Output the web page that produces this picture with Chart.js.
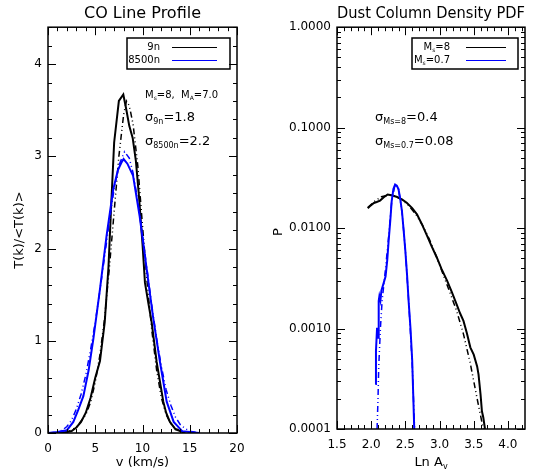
<!DOCTYPE html>
<html>
<head>
<meta charset="utf-8">
<script src="https://cdn.jsdelivr.net/npm/chart.js@4.4.0/dist/chart.umd.min.js"></script>
<style>
body { margin: 0; background: #fff; }
#wrap { position: relative; width: 536px; height: 474px; }
.pane { position: absolute; top: 0; width: 268px; height: 474px; }
</style>
</head>
<body>
<div id="wrap">
  <div class="pane" style="left:0"><canvas id="co" width="268" height="474"></canvas></div>
  <div class="pane" style="left:268px"><canvas id="pdf" width="268" height="474"></canvas></div>
</div>
<script>
// ** DATA: ** //

// CO line profile, 9n (black) and 8500n (blue), with their gaussian fits
var v9n = [0, 1, 2, 2.5, 3, 3.5, 4, 4.5, 5, 5.5, 6, 6.4, 6.7, 7.0, 7.5, 7.97, 8.3, 8.6, 8.96, 9.3, 9.6, 10.0, 10.26, 10.6, 10.97, 11.5, 12.2, 12.5, 12.9, 13.5, 14, 14.5];
var t9n = [0, 0, 0.01, 0.02, 0.06, 0.12, 0.22, 0.38, 0.6, 0.78, 1.2, 1.8, 2.5, 3.15, 3.6, 3.67, 3.5, 3.33, 3.2, 2.95, 2.6, 2.05, 1.63, 1.42, 1.2, 0.77, 0.34, 0.22, 0.12, 0.04, 0.02, 0];

var v9nFit = [0, 1, 2, 3, 4, 4.5, 5, 5.5, 6, 6.5, 7, 7.5, 8, 8.3, 8.6, 9, 9.5, 10, 10.5, 11, 11.5, 12, 12.5, 13, 13.5, 14, 15, 16];
var t9nFit = [0, 0, 0.01, 0.06, 0.2, 0.33, 0.55, 0.85, 1.25, 1.8, 2.4, 3.0, 3.45, 3.6, 3.55, 3.35, 2.9, 2.25, 1.62, 1.1, 0.68, 0.38, 0.2, 0.1, 0.05, 0.02, 0, 0];

var v8500n = [0, 1, 2, 2.68, 3.2, 3.74, 4.3, 4.8, 5.5, 6.2, 6.9, 7.4, 7.76, 8.0, 8.4, 9.0, 9.7, 10.4, 11.1, 11.85, 12.56, 13.3, 14.2, 15, 16];
var t8500n = [0, 0.01, 0.03, 0.12, 0.25, 0.4, 0.68, 1.02, 1.56, 2.14, 2.64, 2.85, 2.93, 2.97, 2.92, 2.79, 2.35, 1.81, 1.27, 0.77, 0.34, 0.12, 0.02, 0.01, 0];

var v8500nFit = [0, 1, 1.5, 2, 2.5, 3, 3.5, 4, 4.5, 5, 5.5, 6, 6.5, 7, 7.5, 8.1, 8.6, 9, 9.5, 10, 10.5, 11, 11.5, 12, 12.5, 13, 13.5, 14, 14.5, 15, 16];
var t8500nFit = [0, 0.01, 0.03, 0.07, 0.14, 0.26, 0.42, 0.63, 0.9, 1.2, 1.55, 1.92, 2.3, 2.65, 2.9, 3.05, 2.98, 2.82, 2.52, 2.15, 1.76, 1.37, 1.02, 0.72, 0.47, 0.3, 0.17, 0.09, 0.05, 0.02, 0];

// dust column density PDF, Ms=8 (black) and Ms=0.7 (blue), with lognormal fits
var lnAvMs8 = [1.95, 1.98, 2.04, 2.08, 2.13, 2.18, 2.24, 2.3, 2.38, 2.45, 2.52, 2.6, 2.67, 2.74, 2.81, 2.88, 2.96, 3.03, 3.11, 3.18, 3.25, 3.3, 3.35, 3.4, 3.45, 3.5, 3.55, 3.57, 3.6, 3.62, 3.64, 3.665];
var pMs8 = [0.0158, 0.0165, 0.0178, 0.0182, 0.0188, 0.0202, 0.0216, 0.0212, 0.0204, 0.0193, 0.0179, 0.0158, 0.0137, 0.011, 0.0086, 0.0067, 0.0051, 0.0039, 0.003, 0.0023, 0.00174, 0.00142, 0.00119, 0.0009, 0.00065, 0.00055, 0.00042, 0.00035, 0.00022, 0.00015, 0.00013, 0.0001];

var lnAvMs8Fit = [1.95, 2.05, 2.15, 2.25, 2.35, 2.45, 2.55, 2.65, 2.75, 2.85, 2.95, 3.05, 3.15, 3.25, 3.35, 3.45, 3.55, 3.64];
var pMs8Fit = [0.016, 0.0185, 0.0205, 0.0213, 0.0208, 0.0192, 0.0167, 0.0138, 0.0107, 0.0078, 0.0053, 0.0035, 0.0023, 0.0015, 0.00088, 0.00045, 0.0002, 0.0001];

var lnAvMs07 = [2.06, 2.07, 2.086, 2.10, 2.11, 2.12, 2.135, 2.15, 2.18, 2.21, 2.235, 2.255, 2.28, 2.30, 2.325, 2.35, 2.375, 2.40, 2.425, 2.45, 2.475, 2.50, 2.525, 2.547, 2.575, 2.60, 2.615, 2.63];
var pMs07 = [0.00028, 0.0006, 0.00102, 0.00081, 0.00188, 0.0021, 0.0019, 0.0024, 0.0028, 0.0033, 0.0048, 0.0074, 0.012, 0.0186, 0.0245, 0.0272, 0.0265, 0.0243, 0.0195, 0.0148, 0.0095, 0.0059, 0.0034, 0.0019, 0.001, 0.00048, 0.00022, 0.0001];

var lnAvMs07Fit = [2.086, 2.10, 2.11, 2.125, 2.135, 2.16, 2.2, 2.25, 2.3, 2.35, 2.4, 2.45, 2.5, 2.55, 2.6, 2.62, 2.635];
var pMs07Fit = [0.0001, 0.0002, 0.00041, 0.0007, 0.001, 0.0019, 0.0034, 0.0075, 0.0185, 0.0272, 0.0245, 0.0148, 0.006, 0.0018, 0.00045, 0.00019, 0.0001];

var pdfTicks = [0.0001, 0.001, 0.01, 0.1, 1];

// ** FUNCTIONS: ** //

var FONT = "'DejaVu Sans', sans-serif";
var BLUE = '#0000ff';
var DASH3DOT = [6, 3, 1, 3, 1, 3];

Chart.defaults.font.family = FONT;
Chart.defaults.color = '#000';

function pts(xs, ys) {
	var out = [];
	for (var i = 0; i < xs.length; i++) {
		out.push({x: xs[i], y: ys[i]});
	}
	return out;
}

function line(label, xs, ys, color, dashed, order) {
	return {
		label: label,
		data: pts(xs, ys),
		borderColor: color,
		borderWidth: dashed ? 1.5 : 2,
		borderDash: dashed ? DASH3DOT : [],
		pointRadius: 0,
		tension: 0,
		order: order
	};
}

// draws text made of pieces [text, size, dy] (for subscripts)
function drawParts(ctx, x, y, parts, align) {
	var w = 0, i;
	for (i = 0; i < parts.length; i++) {
		ctx.font = parts[i][1] + 'px ' + FONT;
		w += ctx.measureText(parts[i][0]).width;
	}
	var cx = align === 'right' ? x - w : (align === 'center' ? x - w / 2 : x);
	ctx.textAlign = 'left';
	ctx.textBaseline = 'middle';
	for (i = 0; i < parts.length; i++) {
		ctx.font = parts[i][1] + 'px ' + FONT;
		ctx.fillText(parts[i][0], cx, y + (parts[i][2] || 0));
		cx += ctx.measureText(parts[i][0]).width;
	}
}

// IDL style box with inward ticks on all four sides
var idlFrame = {
	id: 'idlFrame',
	afterDatasetsDraw: function(chart, args, opts) {
		var ctx = chart.ctx, a = chart.chartArea;
		var xs = chart.scales.x, ys = chart.scales.y;
		var i, p, len, val;
		ctx.save();
		ctx.strokeStyle = '#000';
		ctx.lineWidth = 1;
		ctx.beginPath();
		var nx = Math.round((xs.max - xs.min) / opts.xMinor);
		for (i = 0; i <= nx; i++) {
			val = xs.min + i * opts.xMinor;
			if (val > xs.max + 1e-9) break;
			len = Math.abs(val / opts.xMajor - Math.round(val / opts.xMajor)) < 1e-6 ? 8 : 4;
			p = Math.round(xs.getPixelForValue(val)) + 0.5;
			ctx.moveTo(p, a.bottom); ctx.lineTo(p, a.bottom - len);
			ctx.moveTo(p, a.top); ctx.lineTo(p, a.top + len);
		}
		var yv = [];
		if (opts.yLog) {
			for (var d = -4; d <= 0; d++) {
				for (var m = 1; m <= 9; m++) {
					val = m * Math.pow(10, d);
					if (val <= ys.max * 1.0001) yv.push([val, m === 1]);
				}
			}
		} else {
			var ny = Math.round((ys.max - ys.min) / opts.yMinor);
			for (i = 0; i <= ny; i++) {
				val = ys.min + i * opts.yMinor;
				yv.push([val, Math.abs(val / opts.yMajor - Math.round(val / opts.yMajor)) < 1e-6]);
			}
		}
		for (i = 0; i < yv.length; i++) {
			len = yv[i][1] ? 8 : 4;
			p = Math.round(ys.getPixelForValue(yv[i][0])) + 0.5;
			ctx.moveTo(a.left, p); ctx.lineTo(a.left + len, p);
			ctx.moveTo(a.right, p); ctx.lineTo(a.right - len, p);
		}
		ctx.stroke();
		ctx.lineWidth = 1.5;
		ctx.strokeRect(a.left, a.top, a.right - a.left, a.bottom - a.top);
		ctx.restore();
	}
};

// legend box, notes and axis titles
var notes = {
	id: 'notes',
	afterDraw: function(chart, args, opts) {
		var ctx = chart.ctx, a = chart.chartArea;
		ctx.save();
		ctx.fillStyle = '#000';
		drawParts(ctx, (a.left + a.right) / 2, 463, opts.xTitle, 'center');
		ctx.save();
		ctx.translate(opts.yTitleX, opts.yTitleY || (a.top + a.bottom) / 2);
		ctx.rotate(-Math.PI / 2);
		drawParts(ctx, 0, 0, opts.yTitle, 'center');
		ctx.restore();

		var lg = opts.legend;
		ctx.lineWidth = 1.5;
		ctx.strokeStyle = '#000';
		ctx.strokeRect(lg.x, lg.y, lg.w, lg.h);
		for (var i = 0; i < lg.rows.length; i++) {
			var ry = lg.y + 9 + i * 13;
			drawParts(ctx, lg.textRight, ry, lg.rows[i].text, 'right');
			ctx.beginPath();
			ctx.lineWidth = 1.2;
			ctx.strokeStyle = lg.rows[i].color;
			ctx.moveTo(lg.lineFrom, ry + 0.5);
			ctx.lineTo(lg.lineTo, ry + 0.5);
			ctx.stroke();
		}
		for (var j = 0; j < opts.lines.length; j++) {
			drawParts(ctx, opts.lines[j].x, opts.lines[j].y, opts.lines[j].parts, 'left');
		}
		ctx.restore();
	}
};

function titleOpts(text) {
	return {
		display: true,
		text: text,
		fullSize: false,
		color: '#000',
		font: {size: 16, weight: 'normal', family: FONT},
		padding: {top: 4, bottom: 4}
	};
}

// ** ENTRY POINT: ** //

new Chart(document.getElementById('co'), {
	type: 'line',
	data: {
		datasets: [
			line('8500n', v8500n, t8500n, BLUE, false, 0),
			line('8500n fit', v8500nFit, t8500nFit, BLUE, true, 1),
			line('9n', v9n, t9n, '#000', false, 2),
			line('9n fit', v9nFit, t9nFit, '#000', true, 3)
		]
	},
	options: {
		responsive: false,
		animation: false,
		layout: {padding: {left: 0, right: 31, top: 0, bottom: 0}},
		scales: {
			x: {
				type: 'linear', min: 0, max: 20,
				grid: {display: false, drawTicks: false}, border: {display: false},
				ticks: {stepSize: 5, includeBounds: false, padding: 9, maxRotation: 0, font: {size: 12}},
				afterFit: function(s) { s.height = 41; }
			},
			y: {
				type: 'linear', min: 0, max: 4.4,
				grid: {display: false, drawTicks: false}, border: {display: false},
				ticks: {stepSize: 1, includeBounds: false, padding: 6, font: {size: 12}},
				afterFit: function(s) { s.width = 48; }
			}
		},
		plugins: {
			legend: {display: false},
			tooltip: {enabled: false},
			title: titleOpts('CO Line Profile'),
			idlFrame: {xMinor: 1, xMajor: 5, yMinor: 0.2, yMajor: 1},
			notes: {
				xTitle: [['v (km/s)', 13]],
				yTitle: [['T(k)/<T(k)>', 13]],
				yTitleX: 20,
				legend: {
					x: 127, y: 38, w: 103, h: 31, textRight: 160, lineFrom: 172, lineTo: 217,
					rows: [
						{text: [['9n', 10]], color: '#000'},
						{text: [['8500n', 10]], color: BLUE}
					]
				},
				lines: [
					{x: 145, y: 95, parts: [['M', 10], ['s', 6, 3], ['=8,  M', 10], ['A', 6, 3], ['=7.0', 10]]},
					{x: 145, y: 118, parts: [['σ', 13], ['9n', 8, 4], ['=1.8', 13]]},
					{x: 145, y: 142, parts: [['σ', 13], ['8500n', 8, 4], ['=2.2', 13]]}
				]
			}
		}
	},
	plugins: [idlFrame, notes]
});

new Chart(document.getElementById('pdf'), {
	type: 'line',
	data: {
		datasets: [
			line('Ms=0.7', lnAvMs07, pMs07, BLUE, false, 0),
			line('Ms=0.7 fit', lnAvMs07Fit, pMs07Fit, BLUE, true, 1),
			line('Ms=8', lnAvMs8, pMs8, '#000', false, 2),
			line('Ms=8 fit', lnAvMs8Fit, pMs8Fit, '#000', true, 3)
		]
	},
	options: {
		responsive: false,
		animation: false,
		layout: {padding: {left: 0, right: 11, top: 0, bottom: 0}},
		scales: {
			x: {
				type: 'linear', min: 1.5, max: 4.25,
				grid: {display: false, drawTicks: false}, border: {display: false},
				ticks: {stepSize: 0.5, includeBounds: false, padding: 9, maxRotation: 0, font: {size: 12},
					callback: function(v) { return v.toFixed(1); }},
				afterFit: function(s) { s.height = 45; }
			},
			y: {
				type: 'logarithmic', min: 0.0001, max: 1,
				grid: {display: false, drawTicks: false}, border: {display: false},
				ticks: {padding: 6, autoSkip: false, font: {size: 12},
					callback: function(v) { return Number(v).toFixed(4); }},
				afterBuildTicks: function(s) {
					s.ticks = pdfTicks.map(function(t) { return {value: t, major: true}; });
				},
				afterFit: function(s) { s.width = 69; }
			}
		},
		plugins: {
			legend: {display: false},
			tooltip: {enabled: false},
			title: titleOpts('Dust Column Density PDF'),
			idlFrame: {xMinor: 0.1, xMajor: 0.5, yLog: true},
			notes: {
				xTitle: [['Ln A', 13], ['v', 8, 4]],
				yTitle: [['P', 13]],
				yTitleX: 11,
				yTitleY: 232,
				legend: {
					x: 144, y: 38, w: 106, h: 31, textRight: 182, lineFrom: 198, lineTo: 238,
					rows: [
						{text: [['M', 10], ['s', 6, 3], ['=8', 10]], color: '#000'},
						{text: [['M', 10], ['s', 6, 3], ['=0.7', 10]], color: BLUE}
					]
				},
				lines: [
					{x: 107, y: 118, parts: [['σ', 13], ['Ms=8', 8, 4], ['=0.4', 13]]},
					{x: 107, y: 142, parts: [['σ', 13], ['Ms=0.7', 8, 4], ['=0.08', 13]]}
				]
			}
		}
	},
	plugins: [idlFrame, notes]
});
</script>
</body>
</html>
